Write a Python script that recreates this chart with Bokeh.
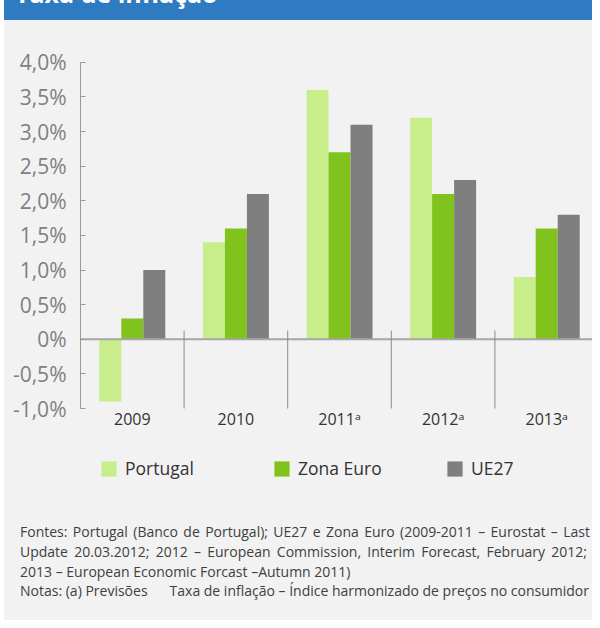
from bokeh.plotting import figure
from bokeh.models import (ColumnDataSource, Range1d, FixedTicker,
                          Legend, LegendItem, Div)
from bokeh.layouts import column
from bokeh.transform import dodge
from bokeh.core.properties import value
from bokeh.embed import file_html
from bokeh.resources import INLINE

# ---------------- data ----------------
years = ["2009", "2010", "2011", "2012", "2013"]
year_labels = ["2009", "2010", "2011ᵃ", "2012ᵃ", "2013ᵃ"]
portugal = [-0.9, 1.4, 3.6, 3.2, 0.9]
zona_euro = [0.3, 1.6, 2.7, 2.1, 1.6]
ue27 = [1.0, 2.1, 3.1, 2.3, 1.8]
series_names = ["Portugal", "Zona Euro", "UE27"]
y_ticks = [-1.0, -0.5, 0.0, 0.5, 1.0, 1.5, 2.0, 2.5, 3.0, 3.5, 4.0]
y_tick_labels = ["-1,0%", "-0,5%", "0%", "0,5%", "1,0%", "1,5%", "2,0%",
                 "2,5%", "3,0%", "3,5%", "4,0%"]
title_text = "Taxa de inflação"
notes_justified = [
    "Fontes: Portugal (Banco de Portugal); UE27 e Zona Euro (2009-2011 – Eurostat – Last",
    "Update 20.03.2012; 2012 – European Commission, Interim Forecast, February 2012;",
]
note_last = "2013 – European Economic Forcast –Autumn 2011)"
note_a = "Notas: (a) Previsões"
note_b = "Taxa de inflação – Índice harmonizado de preços no consumidor"

# ---------------- style ----------------
BG = "#f2f2f2"
C_PT = "#c8ee8c"
C_ZE = "#80c31c"
C_UE = "#7f7f7f"
AXIS = "#999999"
FONT = "'Open Sans', 'Noto Sans', sans-serif"
HFONT = FONT.replace("'", "&quot;")

n = len(years)
xc = [i + 0.5 for i in range(n)]          # category centres on the numeric scale
src = ColumnDataSource(dict(x=xc, label=year_labels, pt=portugal,
                            ze=zona_euro, ue=ue27,
                            label_y=[-1.145] * n))

p = figure(x_range=Range1d(0, 4.942), y_range=Range1d(-2.328, 4.315),
           width=588, height=480, output_backend="svg", toolbar_location=None,
           x_axis_location=None, min_border_left=76, min_border_right=0,
           min_border_top=20, min_border_bottom=0,
           background_fill_color=BG, border_fill_color=BG,
           outline_line_color=None)
p.xgrid.visible = False
p.ygrid.visible = False

bw = 0.2124
r_pt = p.vbar(x=dodge("x", -bw), top="pt", bottom=0, width=bw, source=src,
              fill_color=C_PT, line_color=None)
r_ze = p.vbar(x=dodge("x", 0), top="ze", bottom=0, width=bw, source=src,
              fill_color=C_ZE, line_color=None)
r_ue = p.vbar(x=dodge("x", bw), top="ue", bottom=0, width=bw, source=src,
              fill_color=C_UE, line_color=None)

# zero line and category separators
p.segment(x0=[0], y0=[0], x1=[n], y1=[0], line_color="#a6a6a6", line_width=2)
p.segment(x0=[1, 2, 3, 4], y0=[-1] * 4, x1=[1, 2, 3, 4], y1=[0.126] * 4,
          line_color="#8c8c8c", line_width=1)
p.segment(x0=[0, n], y0=[0, 0], x1=[0, n], y1=[0.126, 0.126],
          line_color="#8c8c8c", line_width=1)

# year labels
p.text(x="x", y="label_y", text="label", source=src,
       text_font=value(FONT), text_font_size="16px", text_color="#333333",
       text_align="center", text_baseline="middle")

# y axis
ax = p.yaxis[0]
ax.ticker = FixedTicker(ticks=y_ticks)
ax.major_label_overrides = {t: l for t, l in zip(y_ticks, y_tick_labels)}
ax.bounds = (-1, 4)
ax.axis_line_color = AXIS
ax.axis_line_width = 1
ax.major_tick_line_color = AXIS
ax.major_tick_in = 5
ax.major_tick_out = 0
ax.minor_tick_line_color = None
ax.major_label_standoff = 14
ax.major_label_text_font = FONT
ax.major_label_text_font_size = "21px"
ax.major_label_text_color = "#808080"

legend = Legend(items=[LegendItem(label=series_names[0], renderers=[r_pt]),
                       LegendItem(label=series_names[1], renderers=[r_ze]),
                       LegendItem(label=series_names[2], renderers=[r_ue])],
                orientation="horizontal", location=(19, 20),
                glyph_width=19, glyph_height=19, label_standoff=7,
                label_width=147, spacing=0, padding=0, margin=0,
                border_line_alpha=0, background_fill_alpha=0,
                label_text_font=FONT, label_text_font_size="17.5px",
                label_text_color="#333333")
p.add_layout(legend)

title_div = Div(
    text=('<div style="position:relative;width:588px;height:20px;overflow:hidden;'
          'background:#2e7bc1"><span style="position:absolute;left:11px;top:-19px;'
          "font-family:" + HFONT + ";font-weight:bold;font-size:25px;"
          'line-height:25px;color:#ffffff;white-space:nowrap">' + title_text + '</span></div>'),
    width=588, height=20, margin=0)

line_style = ('display:block;text-align:justify;text-align-last:justify;'
              'white-space:nowrap;')
foot_html = (
    '<div style="width:572px;height:98px;padding:22px 0 0 16px;'
    'font-family:' + HFONT + ';font-size:14px;line-height:19.8px;color:#404040;'
    'background:' + BG + '">'
    '<div style="width:570px;text-align:justify;text-align-last:justify">'
    + notes_justified[0] + '</div>'
    '<div style="width:567px;text-align:justify;text-align-last:justify">'
    + notes_justified[1] + '</div>'
    '<div style="white-space:nowrap">' + note_last + '</div>'
    '<div style="white-space:nowrap">' + note_a +
    '<span style="margin-left:22px">' + note_b + '</span></div></div>')
foot_div = Div(text=foot_html, width=588, height=120, margin=0,
               styles={"background-color": BG})

layout = column(title_div, p, foot_div, spacing=0,
                styles={"margin-left": "4px", "margin-bottom": "-8px",
                        "background-color": BG})

open("out.html", "w").write(file_html(layout, INLINE))
